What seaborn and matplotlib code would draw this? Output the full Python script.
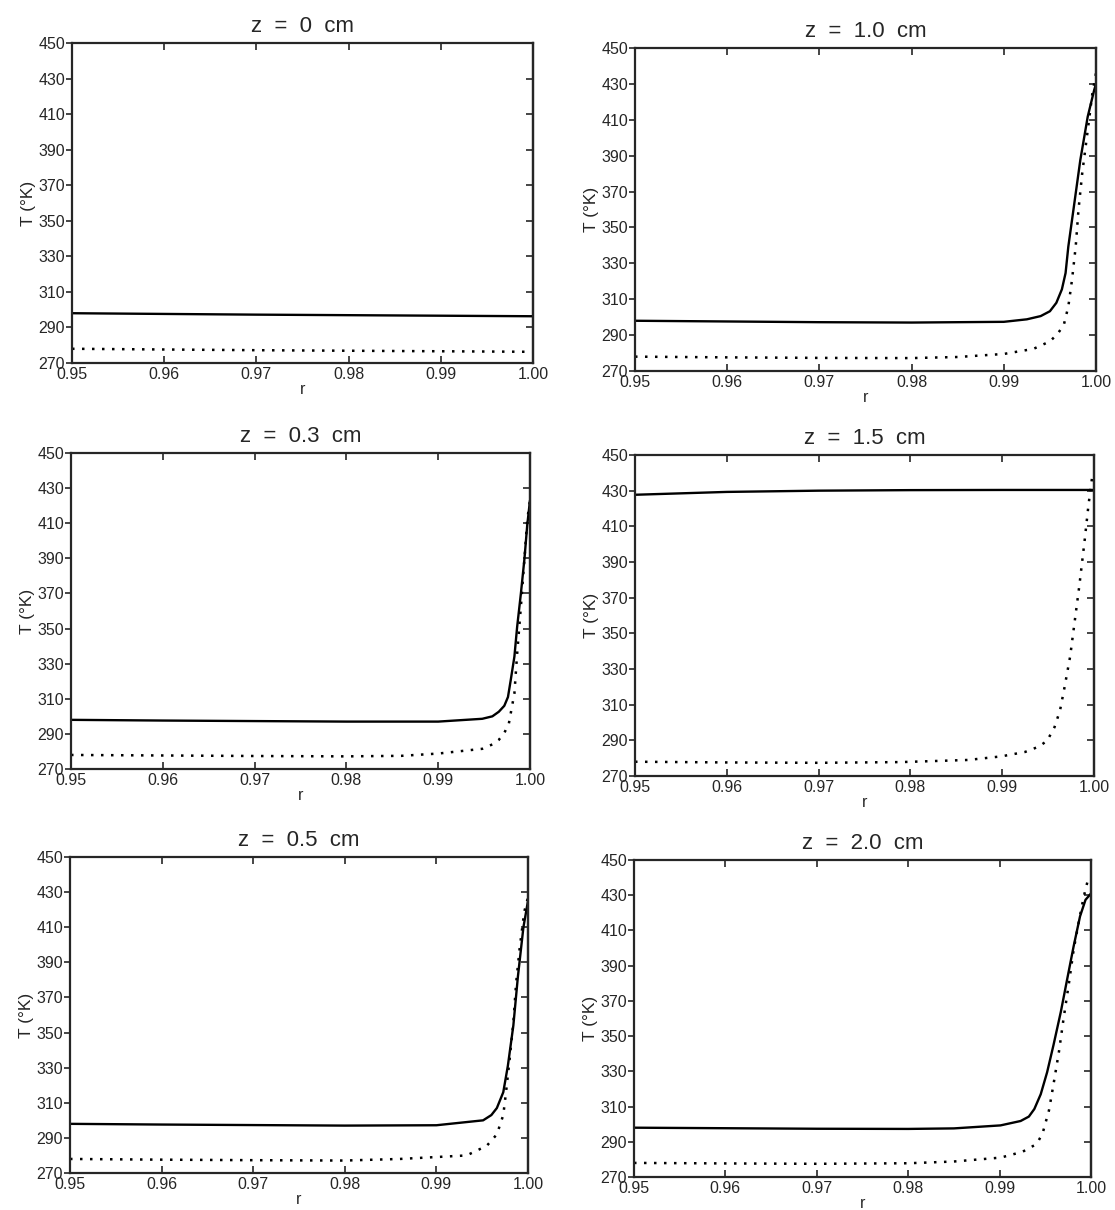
import matplotlib
matplotlib.use("Agg")
import matplotlib.pyplot as plt
import seaborn as sns

# temperature profiles near the wall, T (K) vs r, solid and dotted curve per axial position
TITLES = ["z  =  0  cm", "z  =  0.3  cm", "z  =  0.5  cm", "z  =  1.0  cm", "z  =  1.5  cm", "z  =  2.0  cm"]

r00_s = [0.95, 0.96, 0.97, 0.98, 0.99, 1.00]
T00_s = [298.0, 297.6, 297.2, 296.9, 296.6, 296.3]
r00_d = [0.95, 0.96, 0.97, 0.98, 0.99, 1.00]
T00_d = [278.0, 277.6, 277.2, 276.9, 276.6, 276.3]

r03_s = [0.95, 0.96, 0.97, 0.98, 0.99, 0.9948, 0.9959, 0.9966, 0.9972, 0.9976, 0.9979,
         0.9983, 0.9986, 0.9990, 0.9994, 0.9997, 1.0]
T03_s = [298.0, 297.6, 297.3, 297.0, 297.0, 298.6, 300.0, 302.6, 306.0, 311.0, 320.6,
         334.0, 351.0, 369.6, 390.0, 409.0, 423.0]
r03_d = [0.95, 0.96, 0.97, 0.98, 0.986, 0.99, 0.9948, 0.9959, 0.9966, 0.9972, 0.9977,
         0.9983, 0.9986, 0.9990, 0.9994, 0.9997, 1.0]
T03_d = [278.0, 277.7, 277.4, 277.2, 277.5, 278.8, 281.5, 284.0, 286.6, 290.5, 296.0,
         313.0, 335.7, 362.0, 390.0, 412.0, 423.0]

r05_s = [0.95, 0.96, 0.97, 0.98, 0.99, 0.9951, 0.9960, 0.9966, 0.9973, 0.9978, 0.9984,
         0.9989, 0.9995, 1.0]
T05_s = [298.0, 297.6, 297.3, 297.0, 297.2, 300.0, 303.0, 307.0, 316.0, 331.0, 354.0,
         382.0, 410.0, 425.0]
r05_d = [0.95, 0.96, 0.97, 0.98, 0.986, 0.9933, 0.9955, 0.9966, 0.9973, 0.9976, 0.9980,
         0.9984, 0.9987, 0.9991, 0.9996, 1.0]
T05_d = [278.0, 277.6, 277.3, 277.1, 278.0, 280.0, 285.5, 292.0, 303.0, 316.0, 335.0,
         355.6, 378.0, 398.6, 419.0, 427.0]

r10_s = [0.95, 0.96, 0.97, 0.98, 0.99, 0.9925, 0.9940, 0.9950, 0.9957, 0.9963, 0.9967,
         0.9970, 0.9976, 0.9983, 0.9991, 0.9998, 1.0]
T10_s = [298.0, 297.6, 297.2, 297.0, 297.4, 298.8, 300.6, 303.3, 308.0, 315.5, 324.6,
         339.4, 361.6, 387.6, 411.7, 426.5, 430.0]
r10_d = [0.95, 0.96, 0.97, 0.98, 0.985, 0.99, 0.9932, 0.9950, 0.9958, 0.9965, 0.9970,
         0.9974, 0.9978, 0.9981, 0.9985, 0.9991, 0.9996, 1.0]
T10_d = [278.0, 277.6, 277.3, 277.2, 277.8, 279.5, 282.3, 286.5, 290.5, 295.5, 306.0,
         320.9, 339.4, 359.8, 380.0, 404.0, 424.4, 436.0]

r15_s = [0.95, 0.96, 0.97, 0.98, 0.99, 1.0]
T15_s = [427.7, 429.3, 430.0, 430.3, 430.4, 430.4]
r15_d = [0.95, 0.96, 0.97, 0.979, 0.9863, 0.9899, 0.9925, 0.9940, 0.9949, 0.9957, 0.9963,
         0.9968, 0.9974, 0.9979, 0.9984, 0.9990, 0.9994, 0.9998]
T15_d = [278.0, 277.6, 277.4, 277.8, 279.0, 281.0, 283.5, 286.5, 289.8, 297.4, 306.8,
         320.0, 337.0, 356.8, 376.6, 403.0, 422.0, 437.7]

r20_s = [0.95, 0.96, 0.97, 0.98, 0.985, 0.9901, 0.9923, 0.9932, 0.9938, 0.9945, 0.9952,
         0.9959, 0.9967, 0.9974, 0.9981, 0.9988, 0.9994, 1.0]
T20_s = [298.0, 297.7, 297.4, 297.3, 297.6, 299.3, 301.8, 304.3, 308.6, 317.0, 329.5,
         345.0, 363.8, 382.5, 401.0, 418.0, 427.4, 431.0]
r20_d = [0.95, 0.96, 0.97, 0.98, 0.985, 0.9901, 0.9925, 0.9938, 0.9943, 0.9947, 0.9954,
         0.9959, 0.9965, 0.9970, 0.9976, 0.9981, 0.9987, 0.9992, 0.9997]
T20_d = [278.0, 277.7, 277.5, 277.8, 278.8, 281.0, 284.3, 288.0, 291.0, 294.7, 307.8,
         322.7, 341.4, 360.0, 380.6, 399.0, 416.0, 429.0, 439.5]

R_TICKS = [0.95, 0.96, 0.97, 0.98, 0.99, 1.00]
R_TICK_LABELS = ["0.95", "0.96", "0.97", "0.98", "0.99", "1.00"]
T_TICKS = [270, 290, 310, 330, 350, 370, 390, 410, 430, 450]

sns.set_style("ticks")
plt.rcParams['font.family'] = ['Liberation Sans', 'DejaVu Sans']

W, H = 1115, 1210
fig = plt.figure(figsize=(W / 100, H / 100), dpi=100)


def box(x0, x1, yt, yb):
    return [x0 / W, 1 - yb / H, (x1 - x0) / W, (yb - yt) / H]


panels = [
    (TITLES[0], r00_s, T00_s, r00_d, T00_d, box(72, 533, 43, 363)),
    (TITLES[1], r03_s, T03_s, r03_d, T03_d, box(71, 530, 453, 769)),
    (TITLES[2], r05_s, T05_s, r05_d, T05_d, box(70, 528, 857, 1173)),
    (TITLES[3], r10_s, T10_s, r10_d, T10_d, box(635, 1096, 48, 371)),
    (TITLES[4], r15_s, T15_s, r15_d, T15_d, box(635, 1094, 455, 776)),
    (TITLES[5], r20_s, T20_s, r20_d, T20_d, box(634, 1091, 860, 1177)),
]

for title, rs, ts, rd, td, pos in panels:
    ax = fig.add_axes(pos)
    sns.lineplot(x=rs, y=ts, ax=ax, color="black", linewidth=1.7)
    sns.lineplot(x=rd, y=td, ax=ax, color="black", linewidth=1.8, linestyle=(0, (1, 3)))
    ax.set_xlim(0.95, 1.0)
    ax.set_ylim(270, 450)
    ax.set_xticks(R_TICKS)
    ax.set_xticklabels(R_TICK_LABELS)
    ax.set_yticks(T_TICKS)
    ax.tick_params(axis="x", direction="in", top=True, length=5, width=1.2,
                   pad=3, labelsize=11.5)
    ax.tick_params(axis="y", direction="out", length=4, width=1.2, pad=1,
                   labelsize=11.5)
    sec = ax.secondary_yaxis("right")
    sec.set_yticks(T_TICKS)
    sec.tick_params(direction="in", length=5, width=1.2, labelright=False)
    sec.spines["right"].set_linewidth(1.6)
    for s in ax.spines.values():
        s.set_linewidth(1.6)
    ax.set_title(title, fontsize=16, pad=8)
    ax.set_xlabel("r", fontsize=11.5, labelpad=0)
    ax.set_ylabel("T (°K)", fontsize=12.5, labelpad=2)

fig.savefig("out.png", dpi=100)
